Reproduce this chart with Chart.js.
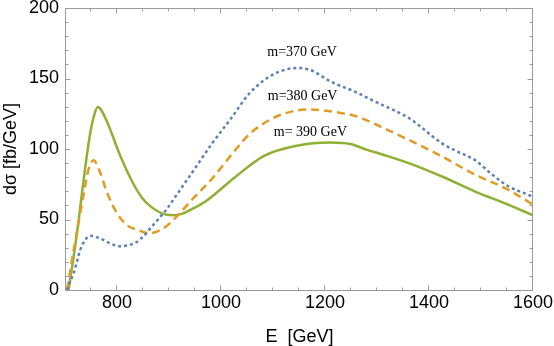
<!DOCTYPE html>
<html><head><meta charset="utf-8">
<script src="https://cdn.jsdelivr.net/npm/chart.js@4.4.0/dist/chart.umd.min.js"></script>
<style>html,body{margin:0;padding:0;background:#fff;}#wrap{width:554px;height:346px;}</style>
</head><body><div id="wrap"><canvas id="c" width="554" height="346"></canvas></div>
<script>
// m = 370 GeV (blue, dotted)
const energyM370 = [704,710,717,729,740,749,768,787,806,822,838,852,866,880,896,912,944,983,1018,1056,1101,1146,1172,1210,1255,1300,1361,1425,1450,1489,1521,1553,1591,1600];
const sigmaM370  = [0,6,12,28,36,38.5,36.5,33,31,31.8,34,38.5,44.5,50.5,57.5,66,83,104,121,140,153,157.4,156,148,141,133,122,104,99,92,82,73.5,67.5,66];
// m = 380 GeV (orange, dashed)
const energyM380 = [704,712,720,736,745,755,768,781,800,819,841,861,886,912,944,983,1027,1056,1101,1146,1172,1223,1262,1306,1361,1425,1489,1553,1600];
const sigmaM380  = [0,18,35,68,85,92,83,69,54.5,46,42.5,40.3,43,51,64,79,99,111,122,127.4,128,126,123,116,106.5,94.7,81.7,71,60.5];
// m = 390 GeV (green, solid)
const energyM390 = [707,723,739,749,757,763,770,780,790,800,816,832,848,864,880,896,910,925,945,970,1027,1082,1146,1210,1249,1281,1306,1361,1425,1489,1553,1600];
const sigmaM390  = [0,40,87,112,125,129.7,127.5,120,111,101,87,75,65.5,59.5,55.5,53.3,53,54,57.5,62.7,80,95,102.3,104.6,103.5,99.4,96.6,90,80.5,69.8,60.4,53];

const xTickValues = [800,1000,1200,1400,1600];
const yTickValues = [0,50,100,150,200];
const labelTexts = ['m=370 GeV','m=380 GeV','m= 390 GeV'];
const labelEnergy = [1156,1157,1172];
const labelSigma = [165.7,135,109.4];

const toXY = (xs, ys) => xs.map((v,i)=>({x:v, y:ys[i]}));

const framePlugin = {
  id:'frame',
  afterDatasetsDraw(chart){
    const {ctx, chartArea:a, scales:{x,y}} = chart;
    ctx.save();
    ctx.strokeStyle = '#9a9a9a';
    ctx.lineWidth = 1;
    const L = Math.round(a.left)-0.5, R = Math.round(a.right)-0.5, T = Math.round(a.top)+0.5, B = Math.round(a.bottom)+0.5;
    ctx.beginPath();
    ctx.rect(L, T, R-L, B-T);
    ctx.stroke();
    ctx.beginPath();
    for (let v = 750; v <= 1600; v += 50) {
      const px = Math.round(x.getPixelForValue(v)) - 0.5;
      const len = (v % 200 === 0) ? 5 : 3;
      ctx.moveTo(px, B); ctx.lineTo(px, B-len);
      ctx.moveTo(px, T); ctx.lineTo(px, T+len);
    }
    for (let v = 0; v <= 200; v += 10) {
      const py = Math.round(y.getPixelForValue(v)) + 0.5;
      const len = (v % 50 === 0) ? 5 : 3;
      ctx.moveTo(L, py); ctx.lineTo(L+len, py);
      ctx.moveTo(R, py); ctx.lineTo(R-len, py);
    }
    ctx.stroke();
    ctx.fillStyle = '#000';
    ctx.font = '14px "Liberation Serif"';
    ctx.textAlign = 'center';
    ctx.textBaseline = 'alphabetic';
    labelTexts.forEach((t,i)=>{
      ctx.fillText(t, x.getPixelForValue(labelEnergy[i]), y.getPixelForValue(labelSigma[i]));
    });
    ctx.restore();
  }
};

new Chart(document.getElementById('c'), {
  type:'line',
  data:{datasets:[
    {label:'m=370 GeV', data:toXY(energyM370, sigmaM370), borderColor:'#5e81b5', borderWidth:2.5, borderDash:[3,3], pointRadius:0, fill:false, cubicInterpolationMode:'monotone'},
    {label:'m=380 GeV', data:toXY(energyM380, sigmaM380), borderColor:'#e19c24', borderWidth:2.5, borderDash:[8,5], pointRadius:0, fill:false, cubicInterpolationMode:'monotone'},
    {label:'m=390 GeV', data:toXY(energyM390, sigmaM390), borderColor:'#8fb032', borderWidth:2.5, pointRadius:0, fill:false, cubicInterpolationMode:'monotone'}
  ]},
  options:{
    responsive:false, animation:false, devicePixelRatio:1,
    layout:{padding:{left:0,right:21,top:8,bottom:0}},
    plugins:{legend:{display:false}, tooltip:{enabled:false}},
    scales:{
      x:{type:'linear', min:702, max:1600,
        afterBuildTicks:s=>{s.ticks = xTickValues.map(v=>({value:v}));},
        afterFit:s=>{s.height = 56; s.paddingLeft = 0; s.paddingRight = 0;},
        grid:{display:false, drawTicks:false}, border:{display:false},
        ticks:{font:{family:'Liberation Sans', size:18, lineHeight:1}, color:'#000', padding:4, maxRotation:0, autoSkip:false, callback:v=>String(v)},
        title:{display:true, text:'E  [GeV]', color:'#000', font:{family:'Liberation Sans', size:18, lineHeight:1}, padding:{top:0,bottom:0}}
      },
      y:{type:'linear', min:0, max:200,
        afterBuildTicks:s=>{s.ticks = yTickValues.map(v=>({value:v}));},
        afterFit:s=>{s.width = 66; s.paddingTop = 0; s.paddingBottom = 0;},
        grid:{display:false, drawTicks:false}, border:{display:false},
        ticks:{font:{family:'Liberation Sans', size:18, lineHeight:1}, color:'#000', padding:7, callback:v=>String(v)},
        title:{display:true, text:'dσ [fb/GeV]', color:'#000', font:{family:'Liberation Sans', size:18, lineHeight:1}, padding:{top:2,bottom:0}}
      }
    }
  },
  plugins:[framePlugin]
});
</script></body></html>
